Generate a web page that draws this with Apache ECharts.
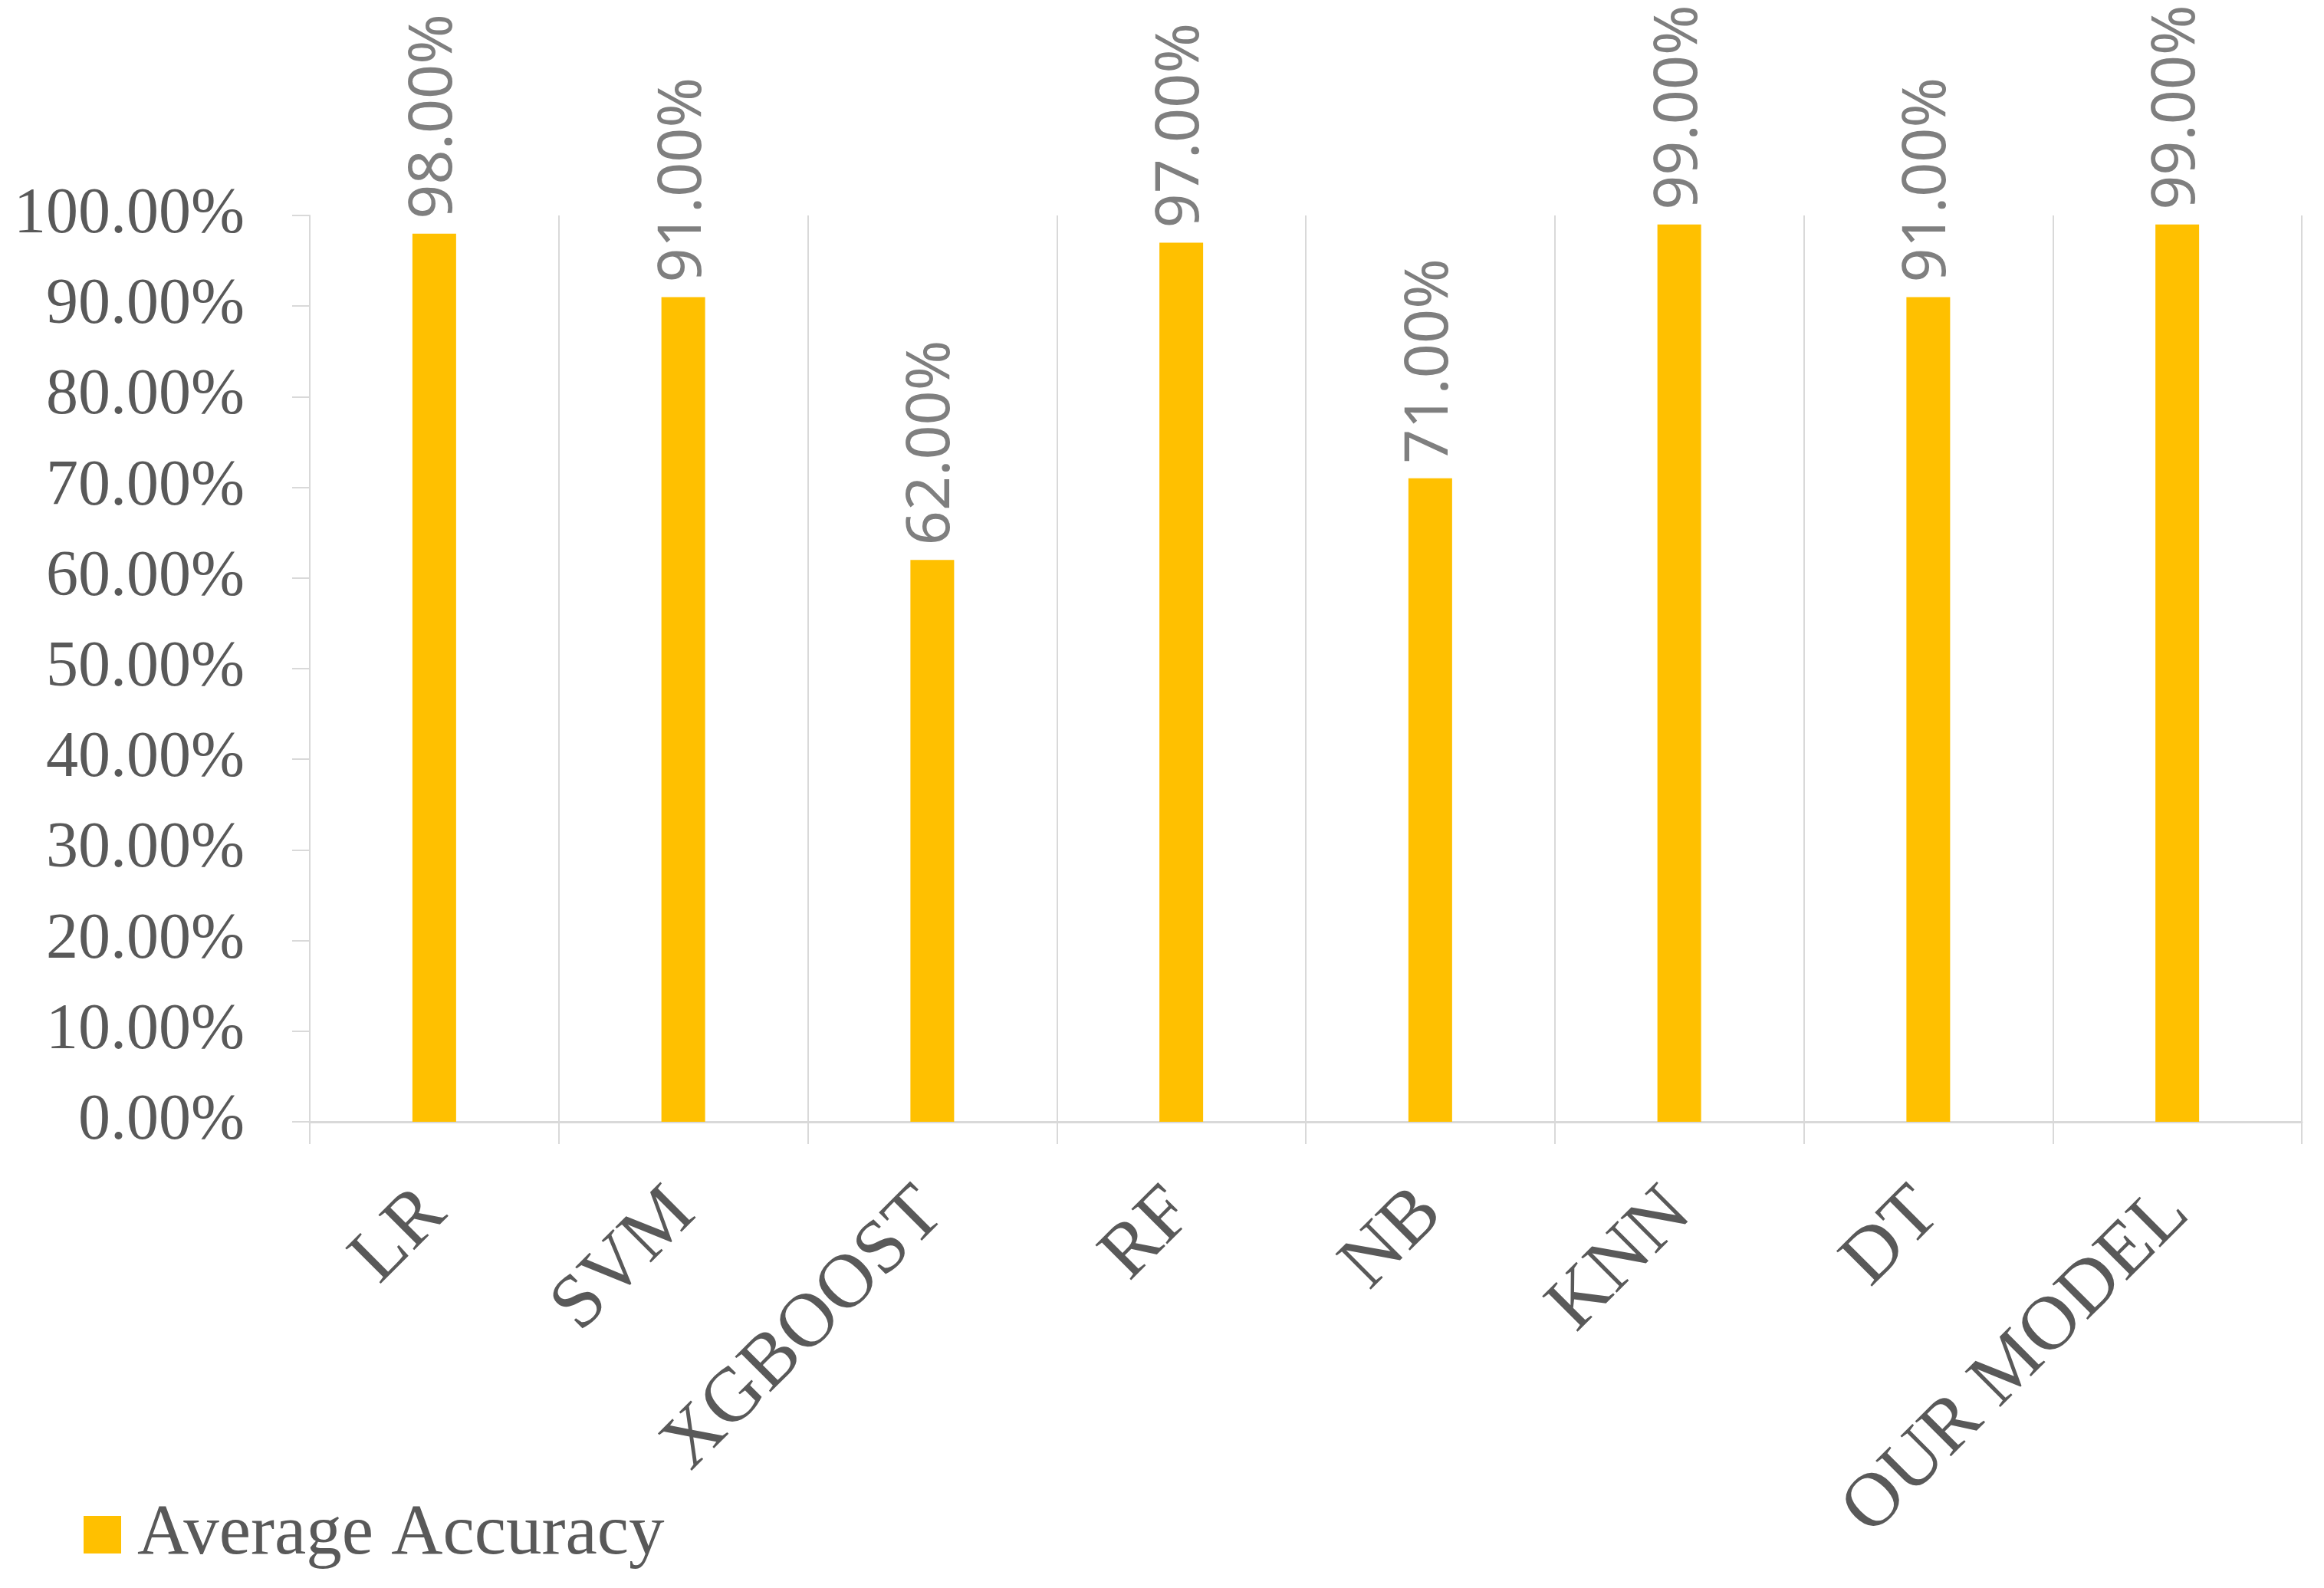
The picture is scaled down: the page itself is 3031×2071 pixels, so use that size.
<!DOCTYPE html>
<html>
<head>
<meta charset="utf-8">
<script src="https://cdn.jsdelivr.net/npm/echarts@6/dist/echarts.min.js"></script>
<style>
html,body{margin:0;padding:0;background:#fff;}
#chart{width:3031px;height:2071px;}
</style>
</head>
<body>
<div id="chart"></div>
<script>
const categories = ['LR', 'SVM', 'XGBOOST', 'RF', 'NB', 'KNN', 'DT', 'OUR MODEL'];
const accuracy = [98, 91, 62, 97, 71, 99, 91, 99];
const seriesName = 'Average Accuracy';
const yMin = 0, yMax = 100, yInterval = 10;

const chart = echarts.init(document.getElementById('chart'));
chart.setOption({
  backgroundColor: '#ffffff',
  animation: false,
  grid: { left: 404, right: 29, top: 281, bottom: 608 },
  legend: {
    left: 104, top: 1950,
    itemWidth: 49, itemHeight: 49, itemGap: 20,
    icon: 'rect',
    textStyle: { fontFamily: 'Liberation Serif', fontSize: 93, color: '#595959', padding: [0, 0, 0, 16] },
    data: [seriesName]
  },
  xAxis: {
    type: 'category',
    data: categories,
    axisLine: { lineStyle: { color: '#d9d9d9', width: 3 } },
    axisTick: { show: true, length: 29, lineStyle: { color: '#d9d9d9', width: 2 } },
    splitLine: { show: true, lineStyle: { color: '#d9d9d9', width: 2 } },
    axisLabel: {
      rotate: 45, margin: 104, interval: 0,
      fontFamily: 'Liberation Serif', fontSize: 100, color: '#595959'
    }
  },
  yAxis: {
    type: 'value',
    min: yMin, max: yMax, interval: yInterval,
    axisLine: { show: true, lineStyle: { color: '#d9d9d9', width: 2 } },
    axisTick: { show: true, length: 23, lineStyle: { color: '#d9d9d9', width: 2 } },
    splitLine: { show: false },
    axisLabel: {
      margin: 85,
      fontFamily: 'Liberation Serif', fontSize: 84, color: '#595959',
      formatter: v => v.toFixed(2) + '%'
    }
  },
  series: [{
    name: seriesName,
    type: 'bar',
    data: accuracy,
    barWidth: 57,
    itemStyle: { color: '#FFC000' },
    label: {
      show: true, position: 'top', rotate: 90, distance: 19,
      align: 'left', verticalAlign: 'middle',
      fontFamily: 'Noto Sans', fontSize: 79, color: '#7f7f7f',
      formatter: p => p.value.toFixed(2) + '%'
    }
  }]
});
</script>
</body>
</html>
